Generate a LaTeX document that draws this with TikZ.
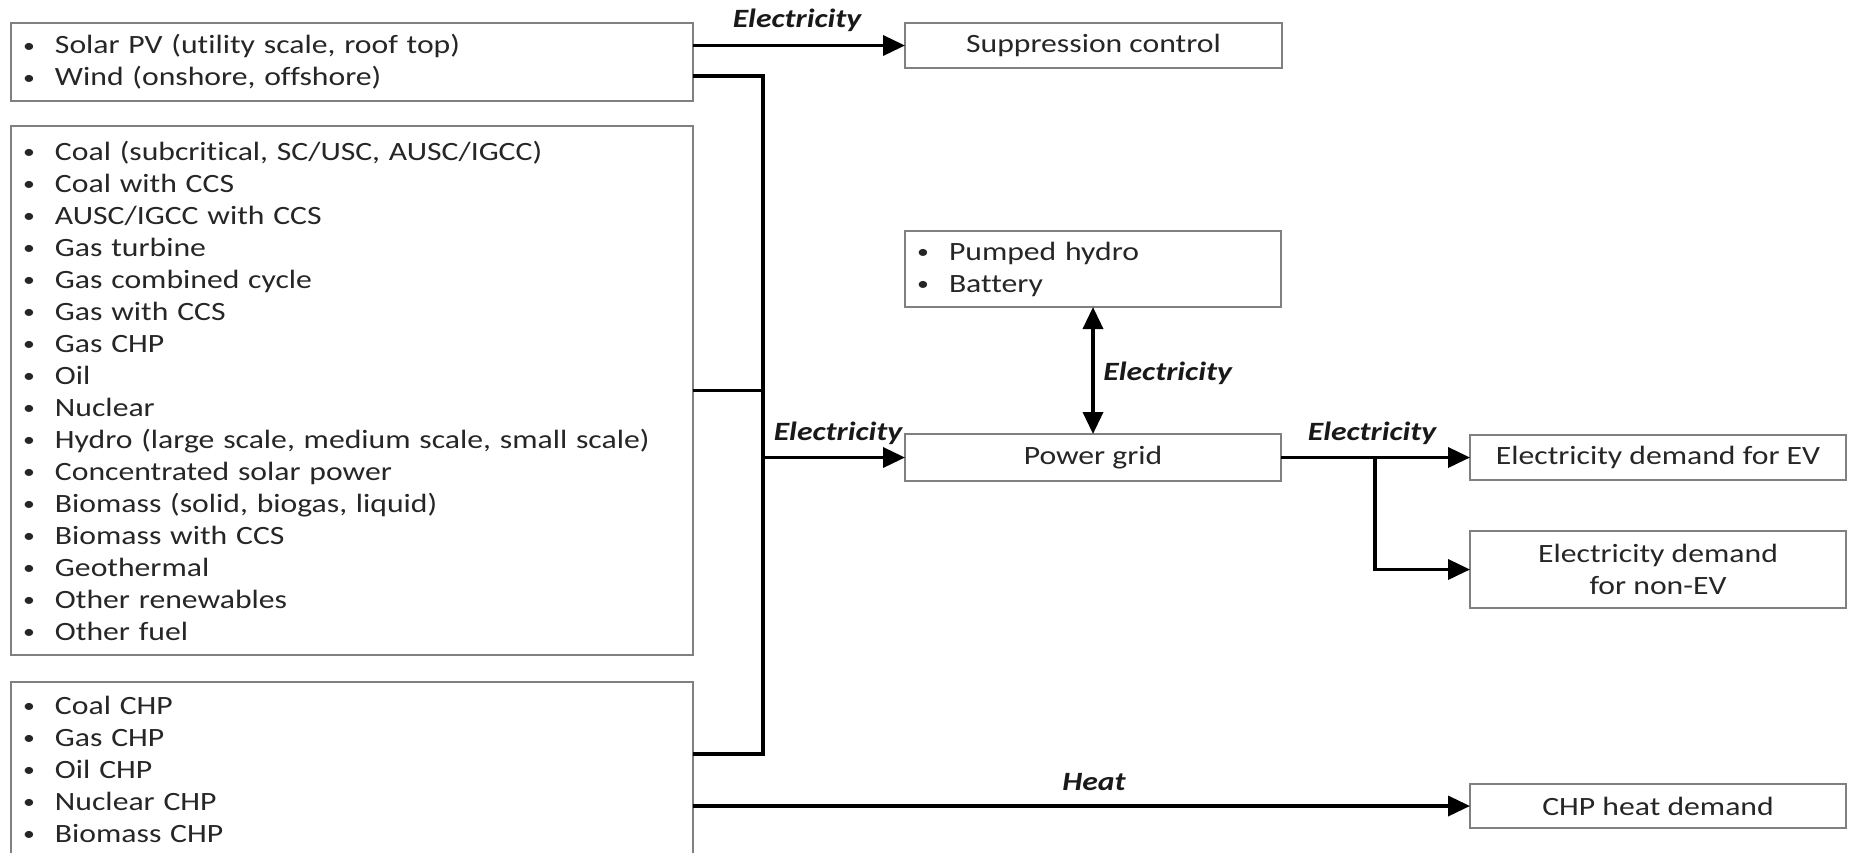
\documentclass[tikz,border=0pt]{standalone}
\usepackage{fontspec}
\setmainfont{Carlito}[FakeStretch=1.2, Ligatures={NoCommon}]
\usetikzlibrary{arrows.meta}
\newcommand\bitem[1]{\makebox[16.5pt][l]{\hspace{0.6pt}\raisebox{0.9pt}{\scalebox{0.75}{\textbullet}}}#1}
\tikzset{
  box/.style={draw=black!50, line width=0.8pt, fill=white, inner sep=0pt, outer sep=0pt,
    font=\fontsize{13.2}{16}\selectfont, text=black!85},
  listbox/.style={box, align=left, inner xsep=5.5pt, anchor=west},
  conn/.style={line width=1.8pt, black},
  arr/.style={conn, -{Triangle[length=11pt,width=10pt]}},
  darr/.style={conn, {Triangle[length=11pt,width=10pt]}-{Triangle[length=11pt,width=10pt]}},
  flow/.style={font=\fontsize{13.2}{16}\selectfont\bfseries\itshape, inner sep=0pt, text=black!90}
}
\begin{document}
\begin{tikzpicture}[x=0.5pt,y=-0.5pt]
\clip (0,0) rectangle (1850,852);
\fill[white] (0,0) rectangle (1850,852);
% left boxes
\node[listbox, minimum width=341pt, minimum height=39pt, text width=330pt] (A) at (11,62)
  {\bitem{Solar PV (utility scale, roof top)}\\\bitem{Wind (onshore, offshore)}};
\node[listbox, minimum width=341pt, minimum height=264.5pt, text width=330pt] (B) at (11,390.5)
  {\bitem{Coal (subcritical, SC/USC, AUSC/IGCC)}\\
   \bitem{Coal with CCS}\\
   \bitem{AUSC/IGCC with CCS}\\
   \bitem{Gas turbine}\\
   \bitem{Gas combined cycle}\\
   \bitem{Gas with CCS}\\
   \bitem{Gas CHP}\\
   \bitem{Oil}\\
   \bitem{Nuclear}\\
   \bitem{Hydro (large scale, medium scale, small scale)}\\
   \bitem{Concentrated solar power}\\
   \bitem{Biomass (solid, biogas, liquid)}\\
   \bitem{Biomass with CCS}\\
   \bitem{Geothermal}\\
   \bitem{Other renewables}\\
   \bitem{Other fuel}};
\node[listbox, minimum width=341pt, minimum height=87pt, text width=330pt] (C) at (11,769)
  {\bitem{Coal CHP}\\\bitem{Gas CHP}\\\bitem{Oil CHP}\\\bitem{Nuclear CHP}\\\bitem{Biomass CHP}};
% right boxes
\node[box, minimum width=188.5pt, minimum height=22.5pt] (S) at (1093.5,45.5) {Suppression control};
\node[listbox, minimum width=188pt, minimum height=38pt, text width=177pt] (ST) at (905,269)
  {\bitem{Pumped hydro}\\\bitem{Battery}};
\node[box, minimum width=188pt, minimum height=23.5pt] (PG) at (1093,457.5) {Power grid};
\node[box, minimum width=188pt, minimum height=22.5pt] (EV) at (1658,457.5) {Electricity demand for EV};
\node[box, minimum width=188pt, minimum height=38.5pt, align=center] (NEV) at (1658,569.5)
  {Electricity demand\\for non-EV};
\node[box, minimum width=188pt, minimum height=22pt] (CHP) at (1658,806) {CHP heat demand};
% junctions
\coordinate (T1) at (763,76);
\coordinate (T2) at (763,754);
\coordinate (Br) at (1375,457.5);
% connectors
\draw[arr] (A.east |- S.west) -- (S.west);
\draw[conn] ([yshift=-7pt]A.east) -- (T1) -- (T2) -- (C.east |- T2);
\draw[conn] (B.east) -- (B.east -| T1);
\draw[arr] (T1 |- PG.west) -- (PG.west);
\draw[darr] (ST.south -| PG.north) -- (PG.north);
\draw[arr] (PG.east) -- (EV.west);
\draw[arr] (Br) |- (NEV.west);
\draw[arr] (C.east |- CHP.west) -- (CHP.west);
% labels
\node[flow] (L1) at (797,20) {Electricity};
\node[flow] (L2) at (838,433) {Electricity};
\node[flow, anchor=west] (L3) at (1103,373) {Electricity};
\node[flow] (L4) at (1372,433) {Electricity};
\node[flow] (L5) at (1094,782) {Heat};
\end{tikzpicture}
\end{document}
